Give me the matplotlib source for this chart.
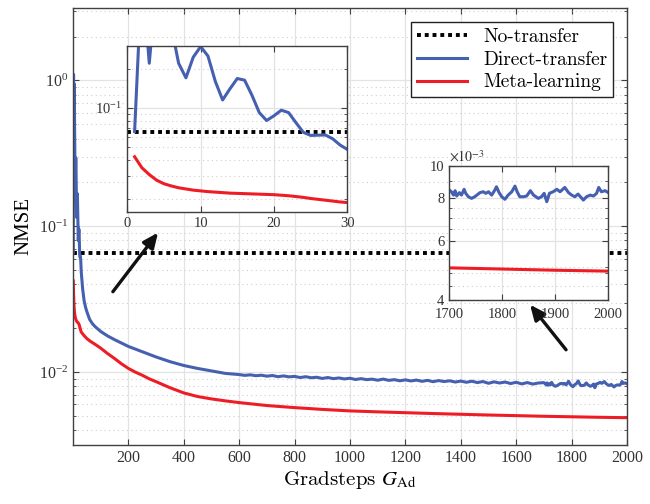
import numpy as np
import matplotlib
matplotlib.use("Agg")
import matplotlib.pyplot as plt
from matplotlib.ticker import FixedLocator, NullFormatter, LogLocator

plt.rcParams['font.family'] = ['Liberation Serif', 'DejaVu Serif']
plt.rcParams['mathtext.fontset'] = 'stix'

# ---- data ----
no_transfer = 0.0656

# first 30 gradsteps (inset)
early_x = list(range(1, 31))
early_blue = [0.066, 1.10, 0.22, 0.95, 0.70, 0.42, 0.22, 0.17, 0.245, 0.295,
              0.25, 0.16, 0.115, 0.14, 0.168, 0.163, 0.125, 0.092, 0.080, 0.087,
              0.096, 0.092, 0.077, 0.065, 0.0615, 0.0618, 0.062, 0.058, 0.052, 0.048]
early_red = [0.0422, 0.0347, 0.0308, 0.0279, 0.0262, 0.0252, 0.0244, 0.0239, 0.0234, 0.0231,
             0.0228, 0.0226, 0.0224, 0.0222, 0.0221, 0.0220, 0.0219, 0.0218, 0.0217, 0.0216,
             0.0214, 0.0212, 0.0209, 0.0206, 0.0202, 0.0199, 0.0196, 0.0193, 0.0190, 0.0188]

# middle part
mid_x = [35, 40, 45, 50, 60, 70, 80, 100, 125, 150, 200, 250, 300, 350, 400, 450, 500, 550,
         600, 620, 640, 660, 680, 700, 720, 740, 760, 780, 800, 820, 840, 860, 880,
         900, 920, 940, 960, 980, 1000, 1020, 1040, 1060, 1080, 1100, 1120, 1140,
         1160, 1180, 1200, 1220, 1240, 1260, 1280, 1300, 1320, 1340, 1360, 1380,
         1400, 1420, 1440, 1460, 1480, 1500, 1520, 1540, 1560, 1580, 1600, 1620,
         1640, 1660, 1680]
mid_blue = [0.037, 0.031, 0.028, 0.026, 0.023, 0.0215, 0.0205, 0.0190, 0.0177, 0.0167,
            0.0150, 0.0138, 0.0127, 0.0118, 0.0111, 0.0106, 0.0102, 0.0098,
            0.00962, 0.00950, 0.00958, 0.00945, 0.00952, 0.00938, 0.00948, 0.00930,
            0.00942, 0.00928, 0.00935, 0.00918, 0.00930, 0.00915, 0.00922, 0.00905,
            0.00918, 0.00902, 0.00912, 0.00898, 0.00908, 0.00890, 0.00902, 0.00888,
            0.00895, 0.00880, 0.00896, 0.00878, 0.00888, 0.00872, 0.00885, 0.00870,
            0.00882, 0.00865, 0.00878, 0.00860, 0.00875, 0.00862, 0.00872, 0.00855,
            0.00868, 0.00852, 0.00866, 0.00848, 0.00862, 0.00838, 0.00858, 0.00842,
            0.00855, 0.00835, 0.00852, 0.00830, 0.00848, 0.00828, 0.00842]

red_mid_x = [40, 50, 60, 73, 80, 100, 125, 150, 175, 200, 225, 250, 275, 300, 350, 400,
             450, 500, 550, 600, 700, 800, 900, 1000, 1100, 1200, 1300, 1400, 1500,
             1600, 1700, 1800, 1900, 2000]
red_mid = [0.0178, 0.0170, 0.0164, 0.0158, 0.0155, 0.0146, 0.0134, 0.0124, 0.0114,
           0.0106, 0.0100, 0.00952, 0.00900, 0.00860, 0.00782, 0.00720, 0.00680,
           0.00655, 0.00635, 0.00618, 0.00590, 0.00571, 0.00555, 0.00542, 0.00534,
           0.00527, 0.00520, 0.00514, 0.00508, 0.00503, 0.00498, 0.00494, 0.00490,
           0.00487]

# last 300 gradsteps (inset)
tail_x = [1700, 1704, 1708, 1711, 1714, 1719, 1723, 1728, 1731, 1736, 1742, 1748,
          1758, 1764, 1769, 1774, 1780, 1786, 1789, 1794, 1799, 1805, 1811, 1818,
          1824, 1828, 1833, 1840, 1846, 1853, 1859, 1868, 1874, 1879, 1884, 1889,
          1896, 1903, 1909, 1918, 1925, 1931, 1937, 1943, 1953, 1959, 1966, 1972,
          1978, 1982, 1987, 1994, 2000]
tail_blue = [8.47, 8.37, 8.18, 8.43, 8.13, 8.32, 8.18, 8.51, 8.28, 8.09, 8.00, 8.09,
             8.32, 8.37, 8.28, 8.37, 8.18, 8.47, 8.66, 8.32, 8.09, 7.95, 8.18, 8.37,
             8.70, 8.37, 8.09, 8.09, 8.13, 8.43, 8.18, 8.00, 8.09, 8.28, 7.82, 8.28,
             8.37, 8.51, 8.37, 8.62, 8.32, 8.18, 8.09, 8.24, 7.91, 8.09, 8.18, 8.13,
             8.28, 8.62, 8.37, 8.43, 8.32]

blue_x = np.array(early_x + mid_x + tail_x, dtype=float)
blue_y = np.array(early_blue + mid_blue + [v * 1e-3 for v in tail_blue])
red_x = np.array(early_x + red_mid_x, dtype=float)
red_y = np.array(early_red + red_mid)

BLUE = '#4560B0'
RED = '#EE1D25'
GRID_MAJ = '#e3e3e3'
GRID_MIN = '#cfcfcf'
SPINE = '#404040'


def style(ax, fs):
    for s in ax.spines.values():
        s.set_color(SPINE)
        s.set_linewidth(1.0)
    ax.tick_params(which='both', direction='in', top=True, right=True,
                   colors=SPINE, labelcolor='#333333', labelsize=fs)
    ax.tick_params(which='major', length=4)
    ax.tick_params(which='minor', length=2.5)
    ax.grid(True, which='major', color=GRID_MAJ, lw=0.9, ls='-')
    ax.grid(True, which='minor', axis='y', color=GRID_MIN, lw=0.8, ls=(0, (1, 3)))
    ax.set_axisbelow(True)


def draw(ax, lw):
    ax.axhline(no_transfer, color='black', lw=lw + 0.6, ls=(0, (1, 1)),
               label='No-transfer')
    ax.plot(blue_x, blue_y, color=BLUE, lw=lw, label='Direct-transfer')
    ax.plot(red_x, red_y, color=RED, lw=lw, label='Meta-learning')


fig = plt.figure(figsize=(6.5, 5.04), dpi=100)
ax = fig.add_axes([0.1123, 0.117, 0.8523, 0.868])
draw(ax, 2.2)
ax.set_yscale('log')
ax.set_xlim(0, 2000)
ax.set_ylim(10 ** -2.5, 10 ** 0.5)
ax.set_xticks(range(200, 2001, 200))
style(ax, 11.5)
ax.set_xlabel(r'Gradsteps $G_{\mathrm{Ad}}$', fontsize=15, family='cmr10', labelpad=2)
ax.set_ylabel('NMSE', fontsize=15)
leg = ax.legend(loc='upper right', bbox_to_anchor=(0.9747, 0.967),
                prop={'family': 'cmr10', 'size': 14}, fancybox=False, framealpha=1,
                edgecolor='#222222', handlelength=2.6, borderaxespad=0,
                labelspacing=0.25, borderpad=0.3)
leg.get_frame().set_linewidth(1.0)

# arrows
arrow_kw = dict(arrowstyle='-|>,head_length=0.45,head_width=0.2',
                color='#111111', lw=2.4, mutation_scale=20, shrinkA=0, shrinkB=0)
ax.annotate('', xy=(307, 0.0905), xytext=(144, 0.0356), arrowprops=arrow_kw)
ax.annotate('', xy=(1650, 0.029), xytext=(1780, 0.01423), arrowprops=arrow_kw)

# inset 1: first 30 gradsteps
ins1 = fig.add_axes([0.1958, 0.58, 0.3385, 0.3294])
draw(ins1, 2.2)
ins1.set_yscale('log')
ins1.set_xlim(0, 30)
ins1.set_ylim(0.016, 0.3)
ins1.set_xticks([0, 10, 20, 30])
ins1.yaxis.set_major_locator(FixedLocator([0.1]))
ins1.yaxis.set_minor_locator(LogLocator(base=10, subs=np.arange(2, 10)))
ins1.yaxis.set_minor_formatter(NullFormatter())
style(ins1, 10.5)

# inset 2: last 300 gradsteps
ins2 = fig.add_axes([0.6912, 0.4048, 0.2446, 0.2665])
draw(ins2, 2.2)
ins2.set_yscale('log')
ins2.set_xlim(1700, 2000)
ins2.set_ylim(4e-3, 1e-2)
ins2.set_xticks([1700, 1800, 1900, 2000])
ins2.yaxis.set_major_locator(FixedLocator([4e-3, 6e-3, 8e-3, 1e-2]))
ins2.set_yticklabels(['4', '6', '8', '10'])
ins2.yaxis.set_minor_locator(FixedLocator([4.4e-3, 4.8e-3, 5e-3, 6.5e-3, 7e-3, 7.5e-3, 9e-3]))
ins2.yaxis.set_minor_formatter(NullFormatter())
style(ins2, 10.5)
ins2.tick_params(axis='x', pad=6)
ins2.grid(True, which='minor', axis='y', color=GRID_MIN, lw=0.8, ls=(0, (1, 3)))
ins2.text(0.0, 1.01, r'$\times 10^{-3}$', transform=ins2.transAxes, fontsize=10,
          color='#333333', va='bottom', ha='left')

fig.savefig('out.png', dpi=100)
